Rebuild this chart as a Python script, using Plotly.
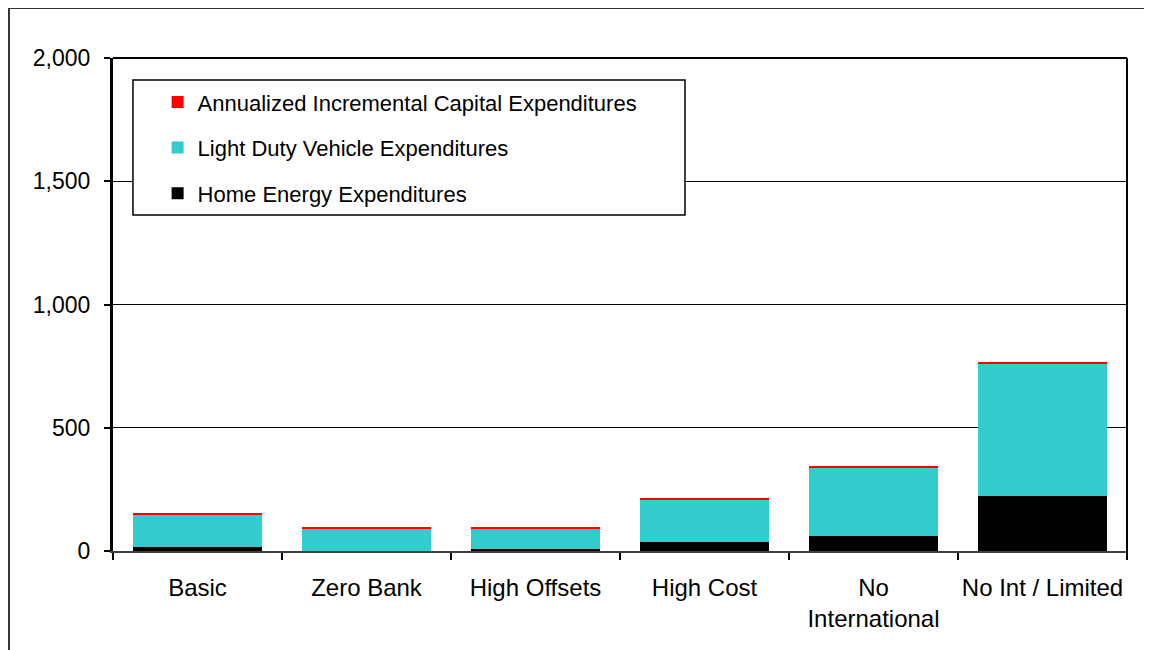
"""Household expenditure by scenario — stacked bars."""

import plotly.graph_objects as go

FONT = "Liberation Sans, Arial, sans-serif"
CYAN = "#33CCCC"
RED = "#FF0000"
BLACK = "#000000"

scenarios = [
    "Basic",
    "Zero Bank",
    "High Offsets",
    "High Cost",
    "No<br>International",
    "No Int / Limited",
]
home_energy = [16, 2, 8, 38, 62, 224]
light_duty = [131, 90, 84, 169, 276, 536]
capital = [7, 7, 7, 8, 8, 8]

y_ticks = [0, 500, 1000, 1500, 2000]
y_labels = ["0", "500", "1,000", "1,500", "2,000"]

fig = go.Figure()
for name, vals, col, rank in [
    ("Home Energy Expenditures", home_energy, BLACK, 3),
    ("Light Duty Vehicle Expenditures", light_duty, CYAN, 2),
    ("Annualized Incremental Capital Expenditures", capital, RED, 1),
]:
    fig.add_trace(
        go.Bar(
            name=name,
            x=scenarios,
            y=vals,
            legendgroup=name,
            legendrank=rank,
            marker=dict(color=col, line=dict(width=0)),
        )
    )

# page body adds an 8px offset; figure shrunk by 8px so it fits the window
fig.update_layout(
    width=1144,
    height=642,
    barmode="stack",
    bargap=0.237,
    paper_bgcolor="white",
    plot_bgcolor="white",
    font=dict(family=FONT, size=22, color="black"),
    margin=dict(l=105, r=25, t=50, b=99, pad=0),
    showlegend=True,
    legend=dict(
        x=0.044,
        y=0.953,
        xanchor="left",
        yanchor="top",
        traceorder="grouped",
        bgcolor="rgba(0,0,0,0)",
        borderwidth=0,
        tracegroupgap=14,
        font=dict(size=22, family=FONT),
    ),
    xaxis=dict(
        type="category",
        showgrid=False,
        showline=True,
        linecolor="#404040",
        linewidth=2,
        ticks="outside",
        tickson="boundaries",
        ticklen=7,
        tickwidth=2,
        tickcolor="black",
        tickangle=0,
        ticklabelstandoff=14,
        tickfont=dict(size=24, family=FONT),
        zeroline=False,
    ),
    yaxis=dict(
        range=[0, 2000],
        tickvals=y_ticks,
        ticktext=y_labels,
        showgrid=True,
        gridcolor="black",
        gridwidth=1,
        showline=True,
        linecolor="black",
        linewidth=3,
        ticks="outside",
        ticklen=6,
        tickwidth=2,
        tickcolor="black",
        ticklabelstandoff=9,
        tickfont=dict(size=23, family=FONT),
        zeroline=False,
    ),
    shapes=[
        # outer chart frame: only top and left edges are inside the page
        dict(type="line", xref="paper", yref="paper",
             x0=-0.1026, x1=1.2, y0=1.1014, y1=1.1014,
             line=dict(color="#333333", width=2)),
        dict(type="line", xref="paper", yref="paper",
             x0=-0.1026, x1=-0.1026, y0=-0.3, y1=1.1014,
             line=dict(color="#333333", width=2)),
        # plot top and right border
        dict(type="line", xref="paper", yref="paper",
             x0=0, x1=1, y0=1, y1=1, line=dict(color="black", width=2)),
        dict(type="line", xref="paper", yref="paper",
             x0=1, x1=1, y0=-0.014, y1=1, line=dict(color="black", width=2)),
        # legend box
        dict(type="rect", xref="paper", yref="paper", layer="above",
             x0=0.0197, x1=0.5641, y0=0.6815, y1=0.9554,
             line=dict(color="black", width=1.5), fillcolor="white"),
    ],
)

fig.write_html("out.html")
